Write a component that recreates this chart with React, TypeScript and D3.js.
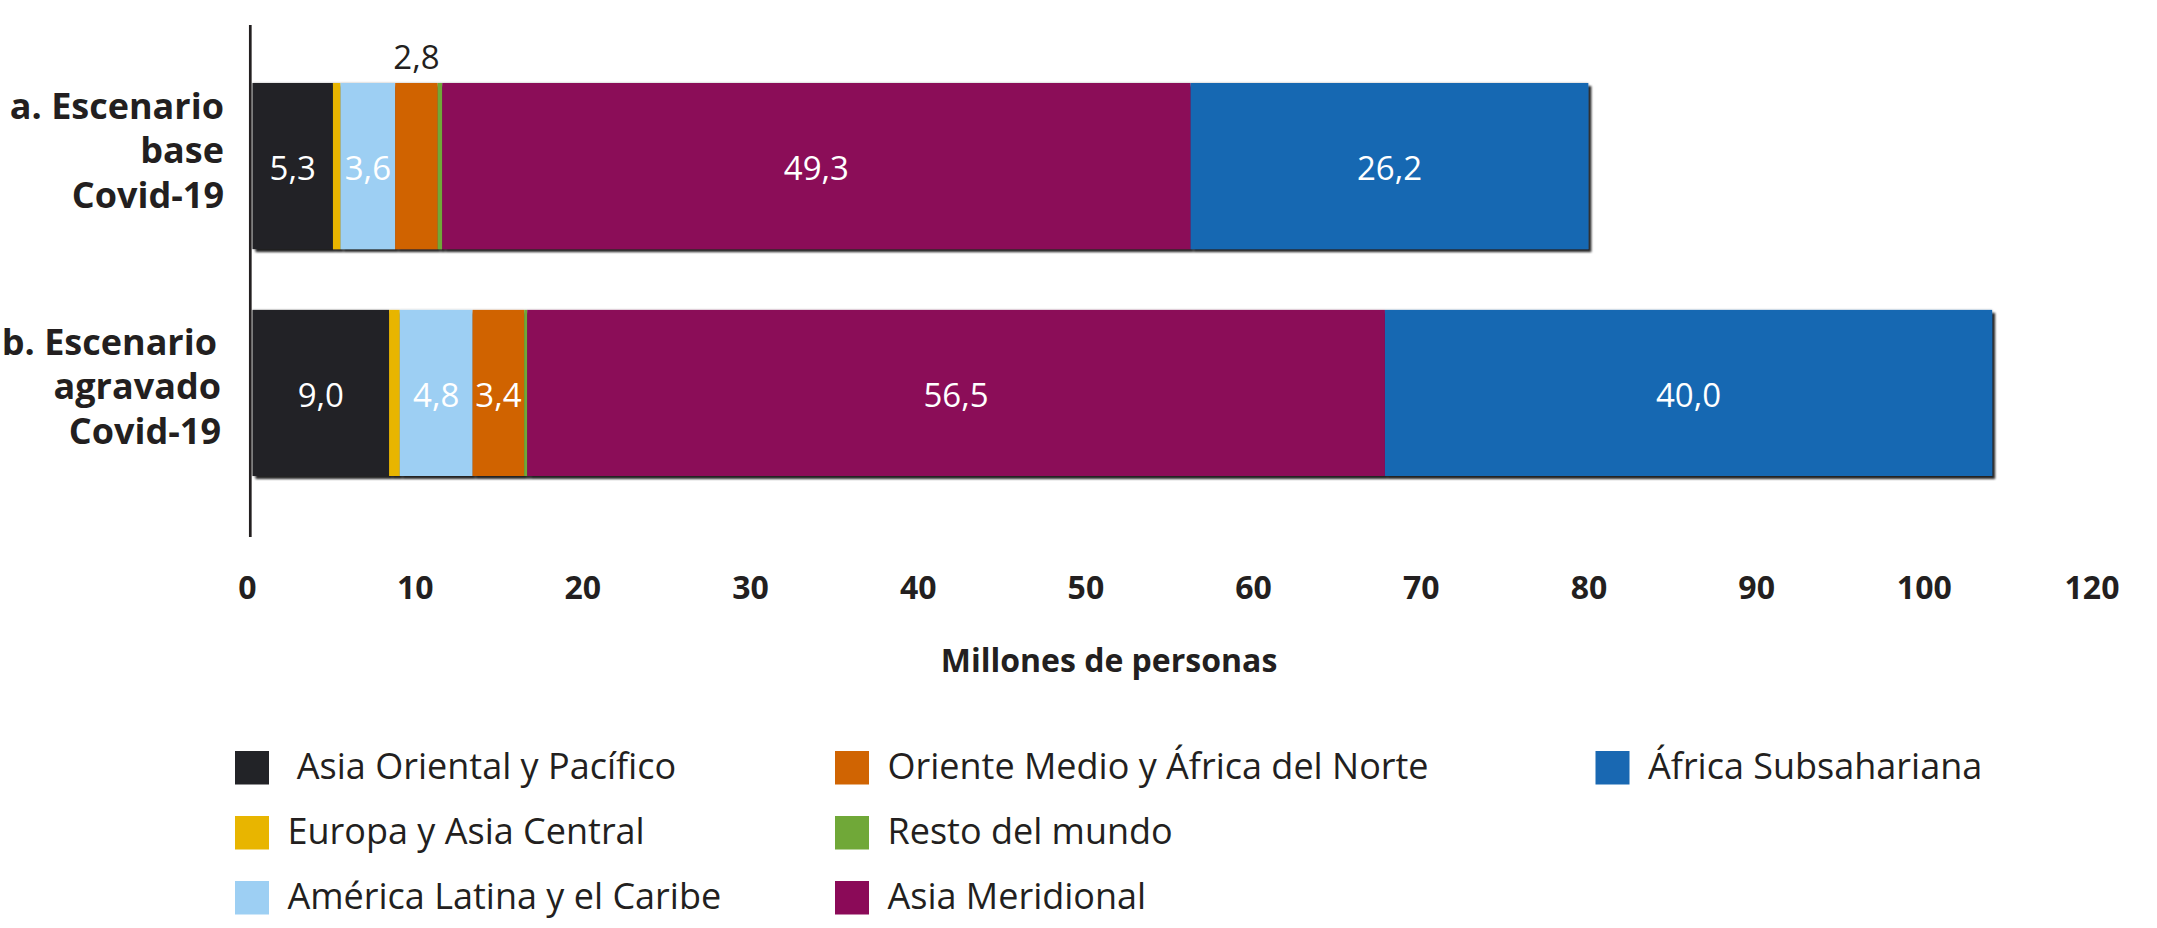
import React, { useEffect } from "react";
import * as d3 from "d3";

// ---------- data ----------
const categories = ["a", "b"];
const categoryLines = [
  ["a. Escenario", "base", "Covid-19"],
  ["b. Escenario", "agravado", "Covid-19"],
];
const seriesNames = [
  " Asia Oriental y Pacífico",
  "Europa y Asia Central",
  "América Latina y el Caribe",
  "Oriente Medio y África del Norte",
  "Resto del mundo",
  "Asia Meridional",
  "África Subsahariana",
];
const seriesColors = ["#222327", "#e8b500", "#9dcff3", "#d06402", "#70a838", "#8b0a58", "#1968b2"];
// values per series: [escenario base, escenario agravado] (millones de personas)
const asiaOriental = [5.3, 9.0];
const europaAsiaCentral = [0.5, 0.7];
const americaLatina = [3.6, 4.8];
const orienteMedio = [2.8, 3.4];
const restoMundo = [0.3, 0.2];
const asiaMeridional = [49.3, 56.5];
const africaSub = [26.2, 40.0];
const seriesValues = [asiaOriental, europaAsiaCentral, americaLatina, orienteMedio, restoMundo, asiaMeridional, africaSub];
const tickLabels = ["0", "10", "20", "30", "40", "50", "60", "70", "80", "90", "100", "120"];
const axisTitle = "Millones de personas";

const W = 2157;
const H = 928;
const TEXT = "#231f20";
const FONT = "'Open Sans', 'Noto Sans', sans-serif";

const esLocale = d3.formatLocale({ decimal: ",", thousands: ".", grouping: [3], currency: ["", "€"] });
const fmt = esLocale.format(".1f");

export default function App() {
  useEffect(() => {
    document.body.style.margin = "0";
    document.body.style.overflow = "hidden";
  }, []);

  const x = d3.scaleLinear().domain([0, 120]).range([252.5, 252.5 + 120 * 15.18]);
  const xTick = d3.scalePoint<string>().domain(tickLabels).range([247.5, 2092]);
  const y = d3.scaleBand<string>().domain(categories).range([83, 476]).paddingInner(0.268).paddingOuter(0);

  const stackData = categories.map((c, ci) => {
    const obj: any = { cat: c };
    seriesNames.forEach((s, si) => (obj[si] = seriesValues[si][ci]));
    return obj;
  });
  const stacked = d3.stack<any>().keys(seriesNames.map((_, i) => String(i)))(stackData);

  const bw = y.bandwidth();
  const labelBaseline = [[35.5, 80, 124.5], [45, 89.5, 134.5]];
  const labelRight = [[224, 224, 224], [217, 221, 221]];

  return (
    <svg width={W} height={H} style={{ position: "absolute", left: 0, top: 0, display: "block", background: "#fff" }}>
      <defs>
        <filter id="shadow" x="-5%" y="-10%" width="110%" height="130%">
          <feGaussianBlur in="SourceAlpha" stdDeviation="1.2" result="b1" />
          <feOffset in="b1" dx="2.5" dy="2.5" result="o1" />
          <feComponentTransfer in="o1" result="s1">
            <feFuncA type="linear" slope="0.85" />
          </feComponentTransfer>
          <feGaussianBlur in="SourceAlpha" stdDeviation="1" result="b2" />
          <feComponentTransfer in="b2" result="s2">
            <feFuncA type="linear" slope="0.3" />
          </feComponentTransfer>
          <feMerge>
            <feMergeNode in="s2" />
            <feMergeNode in="s1" />
            <feMergeNode in="SourceGraphic" />
          </feMerge>
        </filter>
      </defs>

      {/* bars */}
      {categories.map((c, ci) => (
        <g key={c} filter="url(#shadow)">
          {stacked.map((layer, si) => {
            const d = layer[ci];
            return (
              <rect
                key={si}
                x={x(d[0])}
                y={y(c)!}
                width={Math.max(0, x(d[1]) - x(d[0]))}
                height={bw}
                fill={seriesColors[si]}
              />
            );
          })}
        </g>
      ))}

      {/* value labels */}
      {categories.map((c, ci) =>
        stacked.map((layer, si) => {
          const d = layer[ci];
          const v = seriesValues[si][ci];
          if (v < 1) return null;
          const w = x(d[1]) - x(d[0]);
          const cx = (x(d[0]) + x(d[1])) / 2;
          const inside = w >= 50;
          const cy = y(c)! + bw / 2;
          return (
            <text
              key={`${c}-${si}`}
              x={cx}
              y={inside ? cy + 14 : y(c)! - 14}
              textAnchor="middle"
              fontFamily={FONT}
              fontSize={33}
              fill={inside ? "#ffffff" : TEXT}
            >
              {fmt(v)}
            </text>
          );
        })
      )}

      {/* y axis line */}
      <line x1={250.3} x2={250.3} y1={25} y2={537} stroke={TEXT} strokeWidth={2.7} />

      {/* category labels (one text per category, one tspan per line) */}
      {categories.map((c, ci) => (
        <text key={c} textAnchor="end" fontFamily={FONT} fontWeight={700} fontSize={36} fill={TEXT}>
          {categoryLines[ci].map((t, li) => (
            <tspan key={li} x={labelRight[ci][li]} y={y(c)! + labelBaseline[ci][li]}>
              {t}
            </tspan>
          ))}
        </text>
      ))}

      {/* x tick labels */}
      {tickLabels.map((t) => (
        <text key={t} x={xTick(t)} y={599} textAnchor="middle" fontFamily={FONT} fontWeight={700} fontSize={32} fill={TEXT}>
          {t}
        </text>
      ))}
      <text x={1109} y={672} textAnchor="middle" fontFamily={FONT} fontWeight={700} fontSize={32} fill={TEXT}>
        {axisTitle}
      </text>

      {/* legend */}
      {seriesNames.map((s, i) => {
        const colX = [235, 835, 1595.5][Math.floor(i / 3)];
        const rowY = 751 + (i % 3) * 65;
        return (
          <g key={s}>
            <rect x={colX} y={rowY} width={34} height={33.5} fill={seriesColors[i]} />
            <text
              x={colX + 34 + 18.5}
              y={rowY + 27.5}
              fontFamily={FONT}
              fontSize={36}
              fill={TEXT}
              style={{ whiteSpace: "pre" }}
            >
              {s}
            </text>
          </g>
        );
      })}
    </svg>
  );
}
